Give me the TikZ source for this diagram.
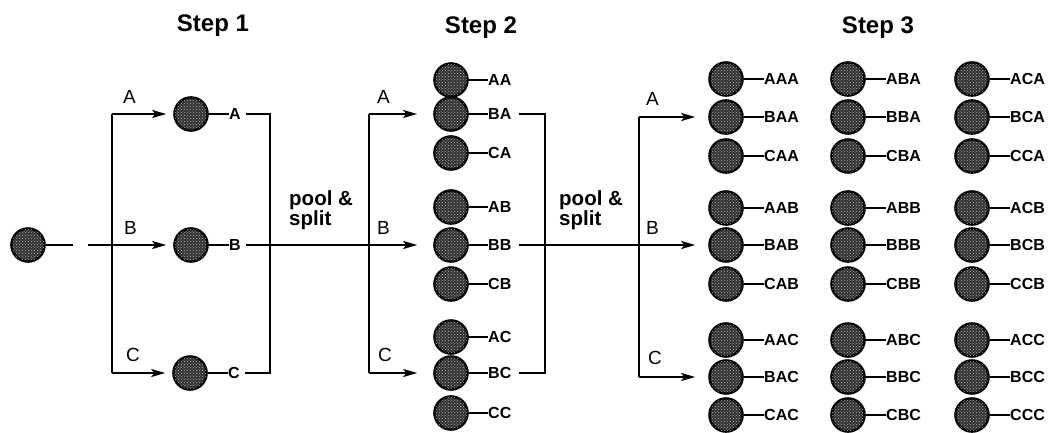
\documentclass[tikz,border=0pt]{standalone}
\usepackage{fontspec}
\setmainfont{Liberation Sans}
\usetikzlibrary{arrows.meta,patterns}
\tikzset{
  cell/.style={circle, draw=black, line width=2.6pt, minimum size=33pt, inner sep=0pt,
    fill=black!80, postaction={pattern=crosshatch dots, pattern color=black!35}},
  lab/.style={anchor=west, inner sep=0pt, font=\fontsize{16}{18}\selectfont\bfseries},
  branch/.style={anchor=base west, inner sep=0pt, font=\fontsize{19}{21}\selectfont},
  steplab/.style={anchor=base, inner sep=0pt, font=\fontsize{24}{26}\selectfont\bfseries},
  pool/.style={anchor=north west, align=left, inner sep=0pt, font=\fontsize{20.5}{17}\selectfont\bfseries},
  ln/.style={line width=1.8pt},
  arr/.style={line width=1.8pt, -{Stealth[length=14pt,width=8pt,inset=3pt]}},
}
\begin{document}
\begin{tikzpicture}[x=1pt,y=-1pt]
\useasboundingbox (0,0) rectangle (1049,432);

% step titles
\node[steplab] (t1) at (213,31) {Step 1};
\node[steplab] (t2) at (481,33) {Step 2};
\node[steplab] (t3) at (878,33) {Step 3};

% input
\node[cell] (in) at (28,245) {};
\coordinate (inend) at (73,245);
\draw[ln] (in) -- (inend);
\coordinate (bstart) at (88,245);

% step 1 cells
\node[cell] (s1A) at (191,114) {};
\node[cell] (s1B) at (191,245) {};
\node[cell] (s1C) at (190,373) {};
\foreach \n in {A,B,C}{
  \node[lab] (s1\n l) at ([xshift=38pt]s1\n.center) {\n};
  \draw[ln] (s1\n) -- (s1\n l);
}
% step 1 bus
\coordinate (b1t) at (112,114);
\coordinate (b1b) at (112,373);
\draw[ln] (b1t) -- (b1b);
\draw[arr, shorten >=7pt] (b1t) -- (s1A);
\draw[arr, shorten >=7pt] (bstart) -- (s1B);
\draw[arr, shorten >=7pt] (b1b) -- (s1C);
\node[branch] (l1A) at (123,103) {A};
\node[branch] (l1B) at (124,234) {B};
\node[branch] (l1C) at (126,361) {C};

% step 1 bracket
\coordinate (k1t) at (270,114);
\coordinate (k1b) at (270,373);
\draw[ln] ([xshift=5pt]s1Al.east |- k1t) -- (k1t) -- (k1b) -- ([xshift=5pt]s1Cl.east |- k1b);
\node[pool] (p1) at (289,190) {pool \&\\split};

% step 2 cells
\foreach \n/\y in {AA/80,BA/114,CA/153,AB/207,BB/245,CB/284,AC/337,BC/373,CC/413}{
  \node[cell] (s2\n) at (451,\y) {};
  \node[lab] (s2\n l) at (488,\y) {\n};
  \draw[ln] (s2\n) -- (s2\n l);
}
% B line from step 1 to step 2
\draw[arr, shorten >=16pt] ([xshift=5pt]s1Bl.east) -- (s2BB);
% step 2 bus
\coordinate (b2t) at (369,114);
\coordinate (b2b) at (369,373);
\draw[ln] (b2t) -- (b2b);
\draw[arr, shorten >=16pt] (b2t) -- (s2BA);
\draw[arr, shorten >=16pt] (b2b) -- (s2BC);
\node[branch] (l2A) at (377,103) {A};
\node[branch] (l2B) at (377,234) {B};
\node[branch] (l2C) at (378,361) {C};

% step 2 bracket
\coordinate (k2t) at (545,114);
\coordinate (k2b) at (545,373);
\draw[ln] ([xshift=7pt]s2BAl.east) -- (k2t) -- (k2b) -- ([xshift=7pt]s2BCl.east);
\node[pool] (p2) at (559,190) {pool \&\\split};

% step 3 cells
\foreach \c/\x in {A/726,B/848,C/972}{
  \foreach \r/\y in {A/79,B/117,C/156}{
    \node[cell] (s3\r\c A) at (\x,\y) {};
    \node[lab] (s3\r\c Al) at ([xshift=38pt]s3\r\c A.center) {\r\c A};
    \draw[ln] (s3\r\c A) -- (s3\r\c Al);
  }
  \foreach \r/\y in {A/208,B/245,C/284}{
    \node[cell] (s3\r\c B) at (\x,\y) {};
    \node[lab] (s3\r\c Bl) at ([xshift=38pt]s3\r\c B.center) {\r\c B};
    \draw[ln] (s3\r\c B) -- (s3\r\c Bl);
  }
  \foreach \r/\y in {A/340,B/377,C/415}{
    \node[cell] (s3\r\c C) at (\x,\y) {};
    \node[lab] (s3\r\c Cl) at ([xshift=38pt]s3\r\c C.center) {\r\c C};
    \draw[ln] (s3\r\c C) -- (s3\r\c Cl);
  }
}
% B line from step 2 to step 3
\draw[arr, shorten >=13pt] ([xshift=7pt]s2BBl.east) -- (s3BAB);
% step 3 bus
\coordinate (b3t) at (639,117);
\coordinate (b3b) at (639,377);
\draw[ln] (b3t) -- (b3b);
\draw[arr, shorten >=13pt] (b3t) -- (s3BAA);
\draw[arr, shorten >=13pt] (b3b) -- (s3BAC);
\node[branch] (l3A) at (646,105) {A};
\node[branch] (l3B) at (646,234) {B};
\node[branch] (l3C) at (648,364) {C};
\end{tikzpicture}
\end{document}
